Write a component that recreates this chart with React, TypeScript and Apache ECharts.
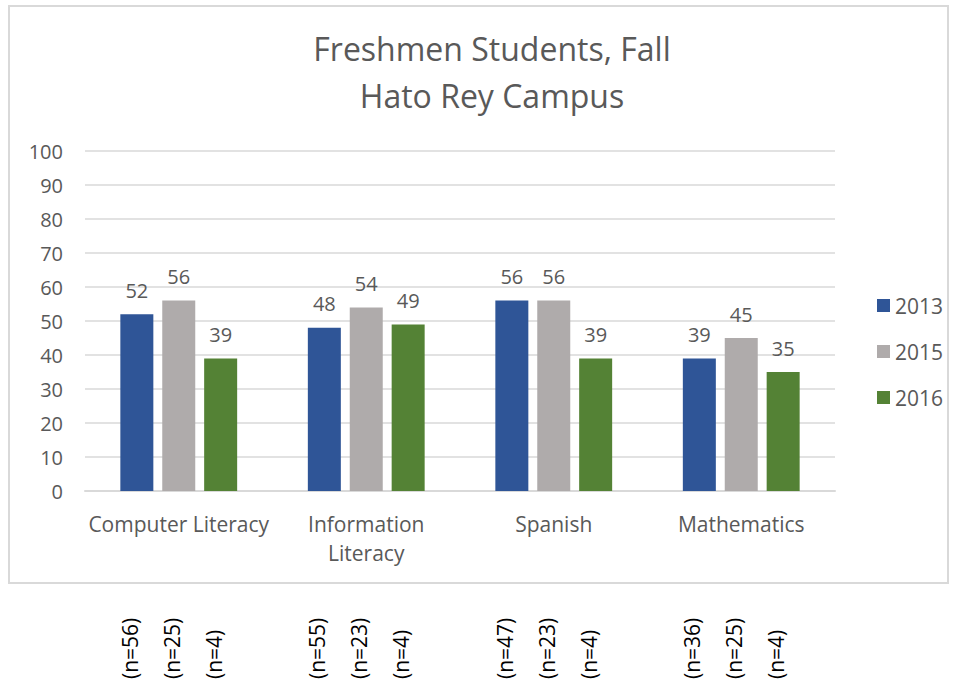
import React, { useEffect, useRef } from "react";
import * as echarts from "echarts";

const categories = ["Computer Literacy", "Information Literacy", "Spanish", "Mathematics"];
const years = ["2013", "2015", "2016"];
const values2013 = [52, 48, 56, 39];
const values2015 = [56, 54, 56, 45];
const values2016 = [39, 49, 39, 35];
const n2013 = [56, 55, 47, 36];
const n2015 = [25, 23, 23, 25];
const n2016 = [4, 4, 4, 4];
const yTicks = { min: 0, max: 100, interval: 10 };

const colors = ["#2F5597", "#AFABAB", "#548235"];
const FONT = "Open Sans";
const TEXT = "#595959";
const BAR_W = 33;
const GAP = 9;

export default function App() {
  const ref = useRef<HTMLDivElement>(null);
  useEffect(() => {
    if (!ref.current) return;
    const chart = echarts.init(ref.current, null, { renderer: "svg" });
    const seriesValues = [values2013, values2015, values2016];
    const option: any = {
      animation: false,
      backgroundColor: "#ffffff",
      textStyle: { fontFamily: FONT },
      title: {
        text: "Freshmen Students, Fall\nHato Rey Campus",
        left: 487,
        textAlign: "center",
        top: 20,
        textStyle: { fontFamily: FONT, fontSize: 32, fontWeight: "normal", color: TEXT, lineHeight: 47 },
      },
      legend: {
        orient: "vertical",
        left: 872,
        top: 290,
        itemWidth: 13,
        itemHeight: 13,
        itemGap: 25,
        icon: "rect",
        data: years,
        textStyle: { fontFamily: FONT, fontSize: 21, color: TEXT },
      },
      grid: { left: 85, right: 124, top: 151, bottom: 190 },
      xAxis: {
        type: "category",
        data: categories,
        axisLine: { lineStyle: { color: "#D9D9D9", width: 2 } },
        axisTick: { show: false },
        axisLabel: {
          fontFamily: FONT,
          fontSize: 21,
          color: TEXT,
          margin: 18,
          lineHeight: 29,
          interval: 0,
          formatter: (v: string) => (v === "Information Literacy" ? "Information\nLiteracy" : v),
        },
      },
      yAxis: {
        type: "value",
        min: yTicks.min,
        max: yTicks.max,
        interval: yTicks.interval,
        axisLine: { show: false },
        axisTick: { show: false },
        splitLine: { lineStyle: { color: "#D9D9D9", width: 1.5 } },
        axisLabel: { fontFamily: FONT, fontSize: 20, color: TEXT, margin: 22 },
      },
      series: years.map((y, i) => ({
        name: y,
        type: "bar",
        data: seriesValues[i],
        barWidth: BAR_W,
        barGap: "27%",
        itemStyle: { color: colors[i] },
        label: {
          show: true,
          position: "top",
          distance: 14,
          fontFamily: FONT,
          fontSize: 20,
          color: TEXT,
        },
      })),
    };
    chart.setOption(option);

    const nSets = [n2013, n2015, n2016];
    const graphics: any[] = [
      {
        type: "rect",
        id: "border",
        shape: { x: 9, y: 6, width: 939, height: 577 },
        style: { fill: "none", stroke: "#D9D9D9", lineWidth: 2 },
        silent: true,
      },
    ];
    categories.forEach((c, ci) => {
      const cx = chart.convertToPixel({ xAxisIndex: 0 }, ci) as number;
      nSets.forEach((arr, si) => {
        const bx = cx + (si - 1) * (BAR_W + GAP) - 7;
        graphics.push({
          type: "text",
          id: `n-${ci}-${si}`,
          x: bx,
          y: 679,
          rotation: Math.PI / 2,
          style: {
            text: `(n=${arr[ci]})`,
            fontFamily: FONT,
            fontSize: 21,
            fill: "#000000",
            align: "left",
            verticalAlign: "middle",
          },
        });
      });
    });
    chart.setOption({ graphic: graphics });
    return () => chart.dispose();
  }, []);
  return (
    <div
      ref={ref}
      style={{ position: "fixed", left: 0, top: 0, width: 959, height: 681 }}
    />
  );
}
